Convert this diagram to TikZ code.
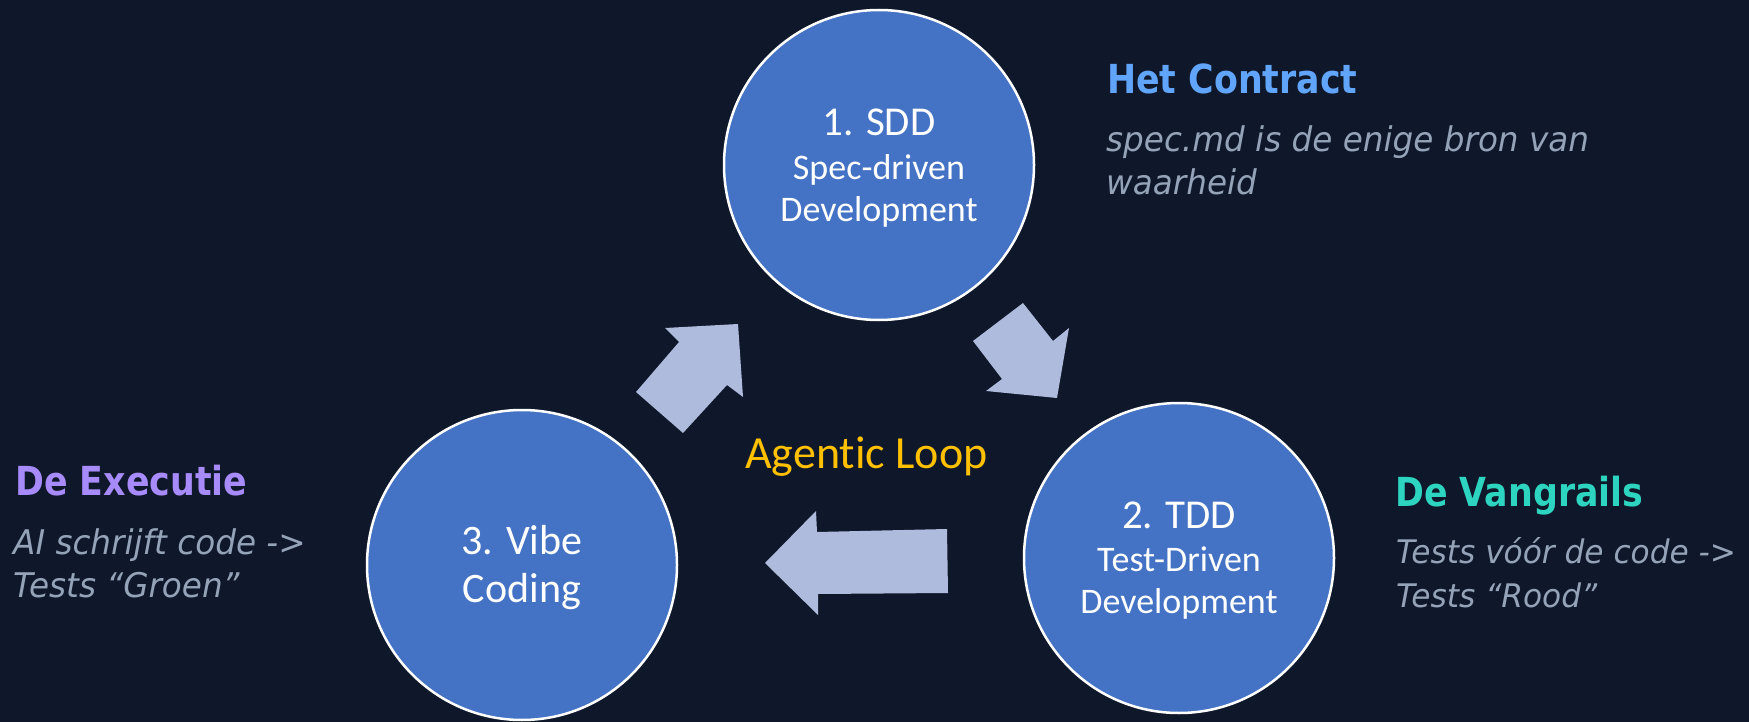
\documentclass[tikz,border=0pt]{standalone}
\usepackage{fontspec}
\setmainfont{Carlito}[Ligatures={NoCommon}]
\newfontfamily\sidefont{DejaVu Sans}[FakeStretch=0.87]
\newfontfamily\notefont{DejaVu Sans}[FakeStretch=0.96]
\definecolor{bg}{HTML}{0F172A}
\definecolor{circfill}{HTML}{4472C4}
\definecolor{arrowfill}{HTML}{AEBBDC}
\definecolor{loopgold}{HTML}{FFC000}
\definecolor{contractblue}{HTML}{60A5FA}
\definecolor{railteal}{HTML}{2DD4BF}
\definecolor{execviolet}{HTML}{A78BFA}
\definecolor{notegray}{HTML}{94A3B8}
\begin{document}
\begin{tikzpicture}[x=1pt,y=-1pt,
  phase/.style={circle, draw=white, line width=2.5pt, fill=circfill, minimum size=310pt, inner sep=0pt},
  bigline/.style={text=white, inner sep=0pt, anchor=base, font=\fontsize{41}{49}\selectfont},
  smallline/.style={text=white, inner sep=0pt, anchor=base, font=\fontsize{36}{43}\selectfont},
  vibeline/.style={text=white, inner sep=0pt, anchor=base, font=\fontsize{42}{50}\selectfont},
  head/.style={inner sep=0pt, anchor=base west, font=\sidefont\bfseries\fontsize{40}{48}\selectfont},
  note/.style={inner sep=0pt, anchor=base west, text=notegray, font=\notefont\itshape\fontsize{34}{43}\selectfont},
  railnote/.style={note, font=\notefont\itshape\fontsize{32.5}{43}\selectfont},
  blockarrow/.style={fill=arrowfill, draw=none}]
\fill[bg] (0,0) rectangle (1749,722);
\useasboundingbox (0,0) rectangle (1749,722);

% phases
\node[phase] (sdd) at (879,165) {};
\node[phase] (tdd) at (1179,558) {};
\node[phase] (vibe) at (522,565) {};

\node[bigline] (sddA) at (879,136) {1. SDD};
\node[smallline] (sddB) at (879,180) {Spec-driven};
\node[smallline] (sddC) at (879,222) {Development};

\node[bigline] (tddA) at (1179,528) {2. TDD};
\node[smallline] (tddB) at (1179,571) {Test-Driven};
\node[smallline] (tddC) at (1179,613) {Development};

\node[vibeline] (vibeA) at (522,554) {3. Vibe};
\node[vibeline] (vibeB) at (522,602) {Coding};

% block arrows
\fill[blockarrow] (636,392) -- (683,433) -- (727,385) -- (743,397) -- (738,324) -- (665,328) -- (679,342) -- cycle;
\fill[blockarrow] (1023,303) -- (973,341) -- (1002,379) -- (986,391) -- (1057,398) -- (1069,328) -- (1053,341) -- cycle;
\fill[blockarrow] (765,563) -- (816,511) -- (817,532) -- (947,529) -- (948,593) -- (818,594) -- (818,615) -- cycle;

\node[inner sep=0pt, anchor=base west, text=loopgold, font=\fontsize{46}{55}\selectfont] (loop) at (745,468) {Agentic Loop};

% side notes
\node[head, text=contractblue] (contractH) at (1107,94) {Het Contract};
\node[note] (contractA) at (1106,152) {spec.md is de enige bron van};
\node[note] (contractB) at (1106,195) {waarheid};

\node[head, text=railteal] (railH) at (1395,506) {De Vangrails};
\node[railnote] (railA) at (1396,563) {Tests vóór de code ->};
\node[railnote] (railB) at (1396,607) {Tests “Rood”};

\node[head, text=execviolet] (execH) at (15,495) {De Executie};
\node[note] (execA) at (13,554) {AI schrijft code ->};
\node[note] (execB) at (13,597) {Tests “Groen”};
\end{tikzpicture}
\end{document}
